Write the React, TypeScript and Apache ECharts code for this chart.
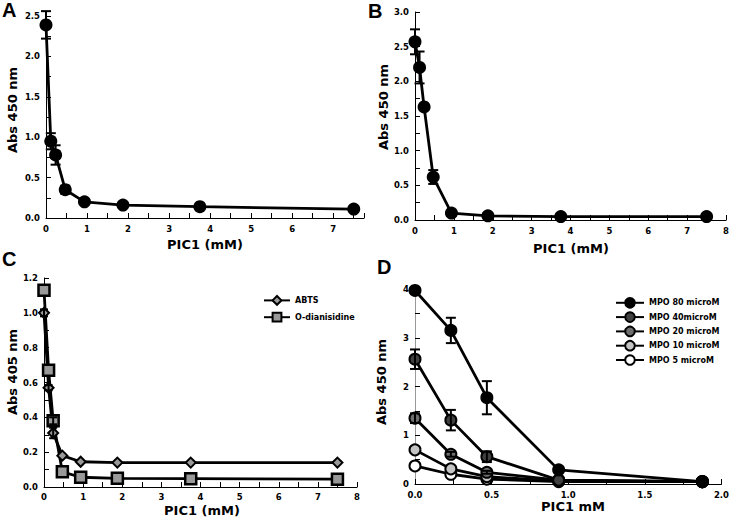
import React, { useEffect, useRef } from "react";
import * as echarts from "echarts";

// ---- Data ----
const concAB = [0, 0.117, 0.234, 0.469, 0.9375, 1.875, 3.75, 7.5];
const absA = [2.39, 0.95, 0.78, 0.35, 0.2, 0.16, 0.14, 0.11];
const errA = [0.17, 0.1, 0.12, 0.05, 0, 0, 0, 0];
const absB = [2.57, 2.2, 1.63, 0.62, 0.1, 0.06, 0.05, 0.05];
const errB = [0.18, 0.23, 0.04, 0.1, 0, 0, 0, 0];

const concC = [0, 0.117, 0.234, 0.469, 0.9375, 1.875, 3.75, 7.5];
const abts = [1.0, 0.57, 0.31, 0.18, 0.145, 0.14, 0.14, 0.14];
const abtsErr = [0.02, 0.015, 0.03, 0, 0, 0, 0, 0];
const odian = [1.13, 0.67, 0.38, 0.087, 0.056, 0.05, 0.048, 0.045];
const odianErr = [0, 0, 0.02, 0, 0, 0, 0, 0];

const concD = [0, 0.234, 0.469, 0.9375, 1.875];
const mpoNames = ["MPO 80 microM", "MPO 40microM", "MPO 20 microM", "MPO 10 microM", "MPO 5 microM"];
const mpoColors = ["#000000", "#404040", "#6e6e6e", "#c4c4c4", "#ffffff"];
const mpo80 = [3.97, 3.15, 1.77, 0.29, 0.05];
const mpo80Err = [0, 0.26, 0.34, 0.05, 0];
const mpo40 = [2.56, 1.31, 0.56, 0.08, 0.05];
const mpo40Err = [0.2, 0.21, 0.11, 0, 0];
const mpo20 = [1.35, 0.61, 0.24, 0.08, 0.05];
const mpo20Err = [0.1, 0.05, 0.03, 0, 0];
const mpo10 = [0.7, 0.31, 0.15, 0.06, 0.05];
const mpo10Err = [0, 0, 0, 0, 0];
const mpo5 = [0.37, 0.2, 0.1, 0.05, 0.05];
const mpo5Err = [0, 0, 0, 0, 0];

const FONT = "'DejaVu Sans', Verdana, sans-serif";
const LETTER_FONT = "bold 20px 'Liberation Sans', Arial, sans-serif";
const TICK_SIZE = 8.5;

function isMult(v: number, step: number) {
  const r = v / step;
  return Math.abs(r - Math.round(r)) < 1e-6;
}

function xAxis(gridIndex: number, max: number, interval: number, labelStep: number, digits: number, margin = 6) {
  return {
    type: "value",
    gridIndex,
    min: 0,
    max,
    interval,
    axisLine: { show: true, onZero: false, lineStyle: { color: "#000", width: 1 } },
    axisTick: { show: true, inside: true, length: 5, lineStyle: { color: "#000", width: 1 } },
    splitLine: { show: false },
    axisLabel: {
      margin,
      color: "#000",
      fontFamily: FONT,
      fontWeight: "bold",
      fontSize: TICK_SIZE,
      showMaxLabel: true,
      formatter: (v: number) => (isMult(v, labelStep) ? v.toFixed(digits) : ""),
    },
  };
}

function yAxis(gridIndex: number, max: number, interval: number, labelStep: number, digits: number, lineColor = "#000") {
  return {
    type: "value",
    gridIndex,
    min: 0,
    max,
    interval,
    axisLine: { show: true, onZero: false, lineStyle: { color: lineColor, width: 1 } },
    axisTick: { show: true, inside: true, length: 5, lineStyle: { color: "#000", width: 1 } },
    splitLine: { show: false },
    axisLabel: {
      margin: 6,
      color: "#000",
      fontFamily: FONT,
      fontWeight: "bold",
      fontSize: TICK_SIZE,
      formatter: (v: number) => (isMult(v, labelStep) ? v.toFixed(digits) : ""),
    },
  };
}

function lineSeries(name: string, idx: number, xs: number[], ys: number[], symbol: string, size: number, fill: string, borderWidth: number, z = 2) {
  return {
    type: "line",
    name,
    xAxisIndex: idx,
    yAxisIndex: idx,
    data: xs.map((x, i) => [x, ys[i]]),
    symbol,
    symbolSize: size,
    showAllSymbol: true,
    z,
    lineStyle: { color: "#000", width: 2.8 },
    itemStyle: { color: fill, borderColor: "#000", borderWidth, opacity: 1 },
    emphasis: { disabled: true },
  };
}

function errSeries(idx: number, xs: number[], ys: number[], es: number[], cap = 5) {
  const data = xs
    .map((x, i) => [x, ys[i] - es[i], ys[i] + es[i], es[i]])
    .filter((d) => d[3] > 0);
  return {
    type: "custom",
    xAxisIndex: idx,
    yAxisIndex: idx,
    z: 5,
    encode: { x: 0, y: [1, 2] },
    data,
    renderItem: (params: any, api: any) => {
      const lo = api.coord([api.value(0), api.value(1)]);
      const hi = api.coord([api.value(0), api.value(2)]);
      const st = { stroke: "#000", lineWidth: 2 };
      return {
        type: "group",
        children: [
          { type: "line", shape: { x1: lo[0], y1: lo[1], x2: hi[0], y2: hi[1] }, style: st },
          { type: "line", shape: { x1: lo[0] - cap, y1: lo[1], x2: lo[0] + cap, y2: lo[1] }, style: st },
          { type: "line", shape: { x1: hi[0] - cap, y1: hi[1], x2: hi[0] + cap, y2: hi[1] }, style: st },
        ],
      };
    },
  };
}

function txt(text: string, x: number, y: number, font: string, rotate = false, align = "center", vAlign = "middle") {
  return {
    type: "text",
    x,
    y,
    rotation: rotate ? Math.PI / 2 : 0,
    silent: true,
    style: { text, font, fill: "#000", align, verticalAlign: vAlign, textAlign: align, textVerticalAlign: vAlign },
  };
}

export default function App() {
  const ref = useRef<HTMLDivElement>(null);
  useEffect(() => {
    if (!ref.current) return;
    const chart = echarts.init(ref.current, undefined, { renderer: "svg" });
    const titleFont = `bold 13px ${FONT}`;
    const yTitleFont = `bold 13px ${FONT}`;
    const mpoData = [mpo80, mpo40, mpo20, mpo10, mpo5];
    const mpoErrs = [mpo80Err, mpo40Err, mpo20Err, mpo10Err, mpo5Err];
    const dSeries: any[] = [];
    for (let k = mpoNames.length - 1; k >= 0; k--) {
      dSeries.push(lineSeries(mpoNames[k], 3, concD, mpoData[k], "circle", 11, mpoColors[k], 2, 2 + (4 - k) * 0.01));
      dSeries.push(errSeries(3, concD, mpoData[k], mpoErrs[k], 5));
    }
    chart.setOption({
      animation: false,
      backgroundColor: "#fff",
      grid: [
        { left: 46, top: 16, width: 318, height: 202 },
        { left: 415, top: 12, width: 313, height: 208 },
        { left: 44, top: 278, width: 313, height: 209 },
        { left: 415, top: 289, width: 308, height: 195 },
      ],
      xAxis: [
        xAxis(0, 7.75, 0.5, 1, 0),
        xAxis(1, 8, 0.5, 1, 0),
        xAxis(2, 8, 0.5, 1, 0, 5),
        xAxis(3, 2, 0.25, 0.5, 1),
      ],
      yAxis: [
        yAxis(0, 2.5, 0.25, 0.5, 1),
        yAxis(1, 3, 0.25, 0.5, 1),
        yAxis(2, 1.2, 0.1, 0.2, 1),
        yAxis(3, 4, 0.5, 1, 0, "#999"),
      ],
      legend: [
        {
          orient: "vertical",
          left: 258,
          top: 290,
          itemWidth: 26,
          itemHeight: 11,
          itemGap: 6,
          selectedMode: false,
          data: ["ABTS", "O-dianisidine"],
          textStyle: { fontFamily: FONT, fontWeight: "bold", fontSize: 8, color: "#000" },
        },
        {
          orient: "vertical",
          left: 610,
          top: 292,
          itemWidth: 28,
          itemHeight: 12,
          itemGap: 2.7,
          selectedMode: false,
          data: mpoNames,
          textStyle: { fontFamily: FONT, fontWeight: "bold", fontSize: 8, color: "#000" },
        },
      ],
      series: [
        lineSeries("A", 0, concAB, absA, "circle", 13, "#000", 0),
        errSeries(0, concAB, absA, errA, 5),
        lineSeries("B", 1, concAB, absB, "circle", 13, "#000", 0),
        errSeries(1, concAB, absB, errB, 5),
        lineSeries("ABTS", 2, concC, abts, "diamond", 10, "#999", 2),
        errSeries(2, concC, abts, abtsErr, 4),
        lineSeries("O-dianisidine", 2, concC, odian, "rect", 11, "#999", 2.5),
        errSeries(2, concC, odian, odianErr, 4),
        ...dSeries,
      ],
      graphic: [
        txt("A", 2, 0, LETTER_FONT, false, "left", "top"),
        txt("B", 368, 1, LETTER_FONT, false, "left", "top"),
        txt("C", 2, 249, LETTER_FONT, false, "left", "top"),
        txt("D", 377, 257, LETTER_FONT, false, "left", "top"),
        txt("PIC1 (mM)", 205, 244, titleFont),
        txt("Abs 450 nm", 12, 110, yTitleFont, true),
        txt("PIC1 (mM)", 571, 248, titleFont),
        txt("Abs 450 nm", 383, 107, yTitleFont, true),
        txt("PIC1 (mM)", 202, 510, titleFont),
        txt("Abs 405 nm", 12, 372, yTitleFont, true),
        txt("PIC1 mM", 573, 506, titleFont),
        txt("Abs 450 nm", 381, 382, yTitleFont, true),
      ],
    });
    return () => chart.dispose();
  }, []);
  return <div ref={ref} style={{ position: "fixed", left: 0, top: 0, width: 732, height: 520, background: "#fff" }} />;
}
